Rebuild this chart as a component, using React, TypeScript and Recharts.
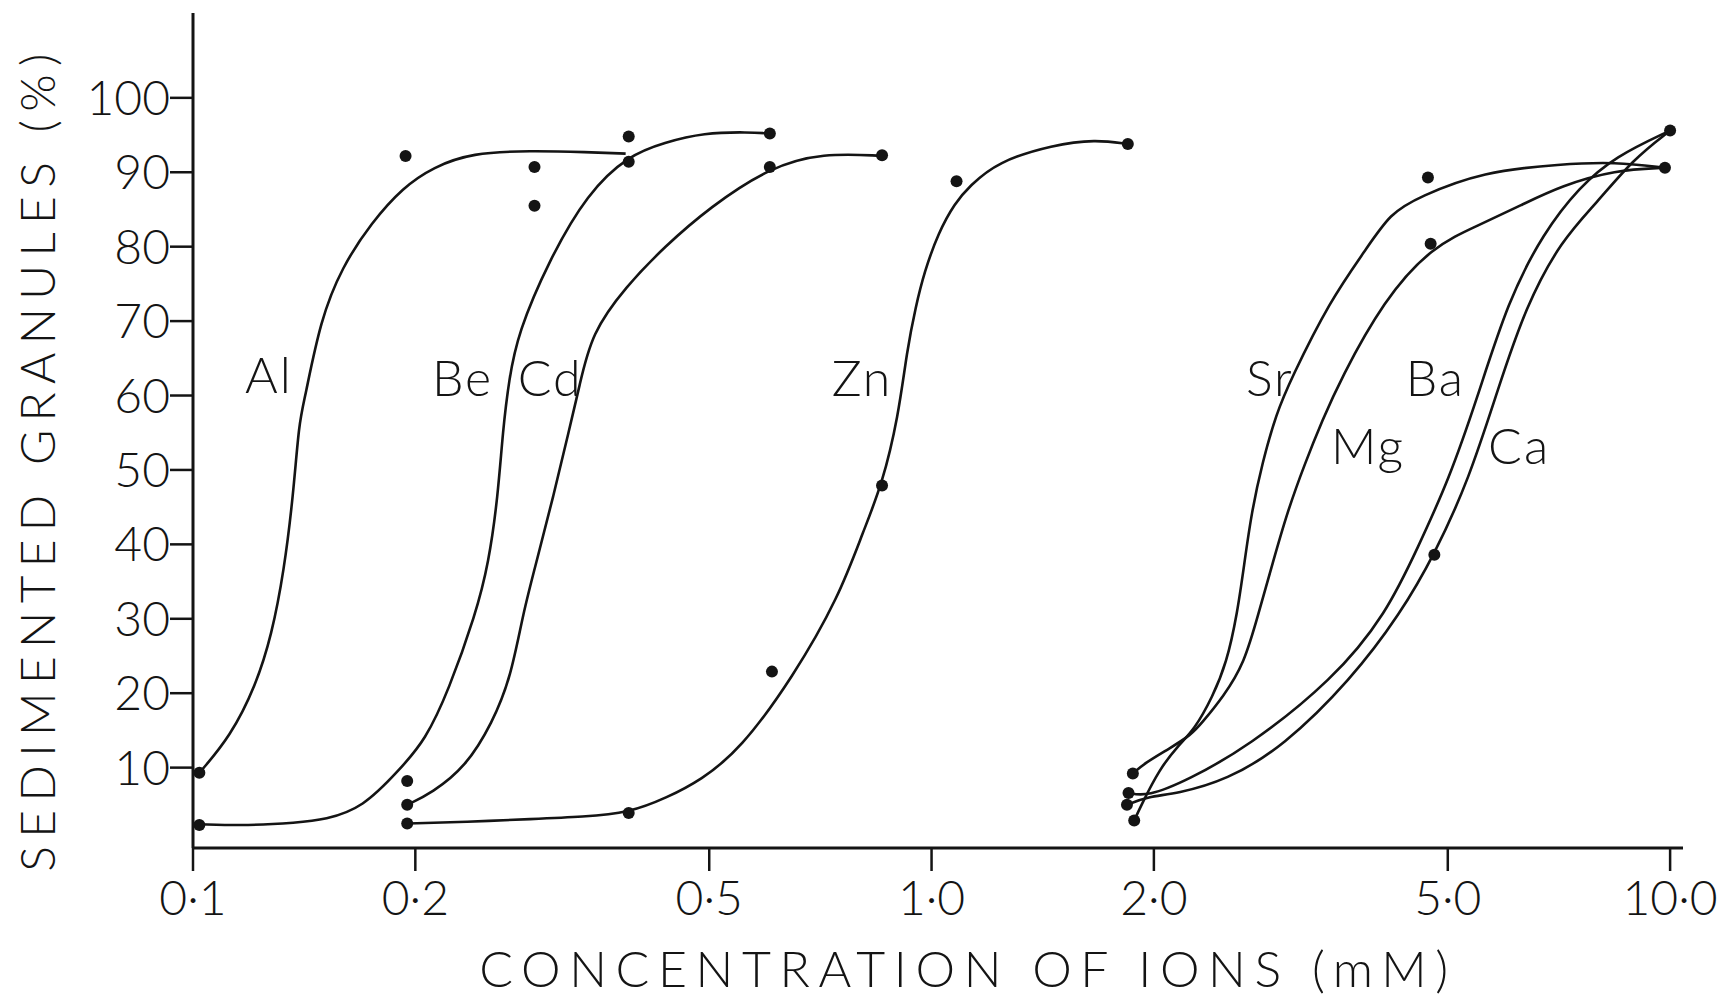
import React from 'react';
import {
  ComposedChart,
  Line,
  Scatter,
  XAxis,
  YAxis,
  Label
} from 'recharts';

// x axis: concentration of ions (mM), log paper
const X_TICKS = [0.1, 0.2, 0.5, 1, 2, 5, 10];
const X_TICK_LABELS = ['0·1', '0·2', '0·5', '1·0', '2·0', '5·0', '10·0'];
const Y_TICKS = [10, 20, 30, 40, 50, 60, 70, 80, 90, 100];

// hand-drawn curves, [mM, % sedimented]
const AL_CURVE = [
  [0.102, 9.3], [0.1124, 14.2], [0.1216, 21.0], [0.1278, 27.8], [0.1328, 36.4],
  [0.1367, 46.6], [0.1392, 56.5], [0.1416, 59.4], [0.1488, 70.2], [0.1592, 77.3],
  [0.1743, 83.2], [0.1926, 88.0], [0.2116, 90.7], [0.2385, 92.6], [0.286, 92.9],
  [0.342, 92.7], [0.3853, 92.5]
];
const BE_CURVE = [
  [0.102, 2.4], [0.1188, 2.2], [0.138, 2.6], [0.151, 3.0], [0.1698, 4.6],
  [0.1903, 9.7], [0.2064, 13.7], [0.2219, 20.4], [0.2414, 30.6], [0.2514, 37.5],
  [0.2587, 46.4], [0.2628, 55.4], [0.2678, 62.1], [0.2754, 68.4], [0.3035, 78.2],
  [0.342, 87.2], [0.3891, 92.3], [0.4349, 94.0], [0.4913, 95.3], [0.5657, 95.4],
  [0.604, 95.2]
];
const CD_CURVE = [
  [0.195, 5.0], [0.2106, 6.6], [0.234, 10.1], [0.2543, 16.0], [0.2695, 22.2],
  [0.2799, 30.8], [0.2915, 37.5], [0.3075, 46.4], [0.3231, 55.4], [0.3335, 61.2],
  [0.3464, 68.4], [0.3853, 74.6], [0.4349, 80.0], [0.5008, 85.3], [0.604, 90.7],
  [0.7127, 92.6], [0.857, 92.2]
];
const ZN_CURVE = [
  [0.195, 2.5], [0.234, 2.7], [0.2884, 3.1], [0.3374, 3.4], [0.389, 3.9],
  [0.439, 6.0], [0.4867, 8.3], [0.5508, 12.4], [0.6496, 22.2], [0.7489, 32.9],
  [0.8091, 41.9], [0.857, 48.0], [0.9018, 57.2], [0.9263, 66.1], [0.9517, 71.9],
  [0.977, 76.5], [1.0215, 81.9], [1.076, 85.9], [1.125, 88.1], [1.227, 91.4],
  [1.462, 93.7], [1.667, 94.4], [1.844, 93.8]
];
const SR_CURVE = [
  [1.881, 2.9], [1.928, 5.2], [2.033, 9.7], [2.149, 12.8], [2.27, 15.1],
  [2.401, 19.5], [2.508, 24.0], [2.594, 30.7], [2.652, 37.5], [2.711, 44.2],
  [2.803, 50.9], [2.93, 57.6], [3.062, 62.1], [3.465, 72.8], [3.873, 79.6],
  [4.18, 84.5], [4.571, 86.7], [5.578, 90.1], [7.13, 91.1], [8.42, 91.4],
  [9.84, 90.6]
];
const MG_CURVE = [
  [1.873, 9.2], [1.943, 10.6], [2.102, 12.6], [2.246, 14.4], [2.322, 16.0],
  [2.482, 19.5], [2.652, 24.0], [2.771, 30.7], [2.897, 37.5], [3.028, 44.2],
  [3.203, 50.9], [3.383, 56.7], [3.576, 62.1], [4.094, 72.8], [4.754, 80.0],
  [5.51, 82.9], [6.29, 85.6], [7.13, 88.2], [8.42, 90.3], [9.84, 90.6]
];
const BA_CURVE = [
  [1.848, 6.6], [1.96, 6.1], [2.222, 8.3], [2.682, 12.8], [3.496, 21.8],
  [4.13, 30.7], [4.56, 39.7], [5.017, 48.7], [5.47, 59.4], [6.036, 72.8],
  [6.741, 81.9], [7.534, 88.0], [8.42, 92.1], [10, 95.6]
];
const CA_CURVE = [
  [1.839, 5.0], [1.96, 6.1], [2.149, 6.5], [2.508, 8.3], [2.993, 12.8],
  [3.696, 21.8], [4.315, 30.7], [4.795, 38.6], [5.34, 48.7], [5.844, 60.8],
  [6.376, 72.0], [7.13, 80.9], [7.956, 85.9], [8.9, 91.7], [10, 95.6]
];

// measured points
const OBSERVED = [
  [0.102, 9.3], [0.102, 2.3], [0.195, 8.2], [0.195, 5.0], [0.195, 2.5],
  [0.194, 92.2], [0.29, 90.7], [0.29, 85.5], [0.389, 94.8], [0.389, 91.4],
  [0.389, 3.9], [0.604, 95.2], [0.604, 90.7], [0.608, 22.9], [0.857, 92.3],
  [0.857, 47.9], [1.081, 88.8], [1.844, 93.8],
  [1.873, 9.2], [1.848, 6.6], [1.839, 5.0], [1.881, 2.9],
  [4.7, 89.3], [4.74, 80.4], [4.795, 38.6], [9.84, 90.6], [10, 95.6]
];

const ION_NAMES = ['Al', 'Be', 'Cd', 'Zn', 'Sr', 'Ba', 'Mg', 'Ca'];
const ION_LABEL_X = [0.1267, 0.2317, 0.3045, 0.805, 2.871, 4.81, 3.899, 6.245];
const ION_LABEL_Y = [62.9, 62.5, 62.5, 62.5, 62.5, 62.5, 53.4, 53.4];

const CURVES = [AL_CURVE, BE_CURVE, CD_CURVE, ZN_CURVE, SR_CURVE, MG_CURVE, BA_CURVE, CA_CURVE];

const INK = '#141414';
const FONT = 'Lato, "DejaVu Sans", sans-serif';

const toPoints = (rows: number[][]) => rows.map(([x, y]) => ({ x, y }));

const dotData = toPoints(OBSERVED);
const labelData = ION_NAMES.map((name, i) => ({ name, x: ION_LABEL_X[i], y: ION_LABEL_Y[i] }));

const DotShape = (props: any) => <circle cx={props.cx} cy={props.cy} r={6} fill={INK} />;

const IonLabel = (props: any) => (
  <text
    x={props.cx}
    y={props.cy}
    textAnchor="middle"
    dominantBaseline="central"
    fontSize={50}
    fontFamily={FONT}
    fontWeight={300}
    letterSpacing={2}
    fill={INK}
  >
    {props.payload.name}
  </text>
);

const XTitle = ({ viewBox }: any) => (
  <text
    x={viewBox.x + 775}
    y={viewBox.y + 139}
    textAnchor="middle"
    fontSize={50}
    fontFamily={FONT}
    fontWeight={300}
    letterSpacing={8.6}
    fill={INK}
  >
    CONCENTRATION OF IONS (mM)
  </text>
);

const YTitle = ({ viewBox }: any) => {
  const cx = viewBox.x - 97;
  const cy = viewBox.y + viewBox.height / 2 + 28;
  return (
    <text
      x={cx}
      y={cy}
      transform={`rotate(-90 ${cx} ${cy})`}
      textAnchor="middle"
      dominantBaseline="central"
      fontSize={48}
      fontFamily={FONT}
      fontWeight={300}
      letterSpacing={8.3}
      fill={INK}
    >
      SEDIMENTED  GRANULES (%)
    </text>
  );
};

const tickStyle = { fill: INK, fontSize: 48, fontFamily: FONT, fontWeight: 300 };

export default function App() {
  return (
    <div style={{ position: 'absolute', left: 0, top: 0, width: 1724, height: 998, background: '#fff' }}>
      <ComposedChart
        width={1724}
        height={998}
        margin={{ top: 13, right: 41, bottom: 90, left: 133 }}
      >
        <XAxis
          dataKey="x"
          type="number"
          scale="log"
          domain={[0.1, 10.41]}
          allowDataOverflow
          ticks={X_TICKS}
          tickFormatter={(v: number) => X_TICK_LABELS[X_TICKS.indexOf(v)] ?? ''}
          interval={0}
          height={60}
          axisLine={{ stroke: INK, strokeWidth: 3 }}
          tickLine={{ stroke: INK, strokeWidth: 2.5 }}
          tickSize={23}
          tickMargin={10}
          tick={tickStyle}
        >
          <Label content={<XTitle />} />
        </XAxis>
        <YAxis
          dataKey="y"
          type="number"
          domain={[-0.8, 111.4]}
          allowDataOverflow
          ticks={Y_TICKS}
          interval={0}
          width={60}
          axisLine={{ stroke: INK, strokeWidth: 3 }}
          tickLine={{ stroke: INK, strokeWidth: 2.5 }}
          tickSize={23}
          tickMargin={0}
          tick={tickStyle}
        >
          <Label content={<YTitle />} />
        </YAxis>

        {CURVES.map((rows, i) => (
          <Line
            key={ION_NAMES[i]}
            data={toPoints(rows)}
            dataKey="y"
            type="basis"
            stroke={INK}
            strokeWidth={2.6}
            dot={false}
            activeDot={false}
            isAnimationActive={false}
          />
        ))}

        <Scatter data={dotData} dataKey="y" shape={<DotShape />} isAnimationActive={false} />
        <Scatter data={labelData} dataKey="y" shape={<IonLabel />} isAnimationActive={false} />
      </ComposedChart>
    </div>
  );
}
